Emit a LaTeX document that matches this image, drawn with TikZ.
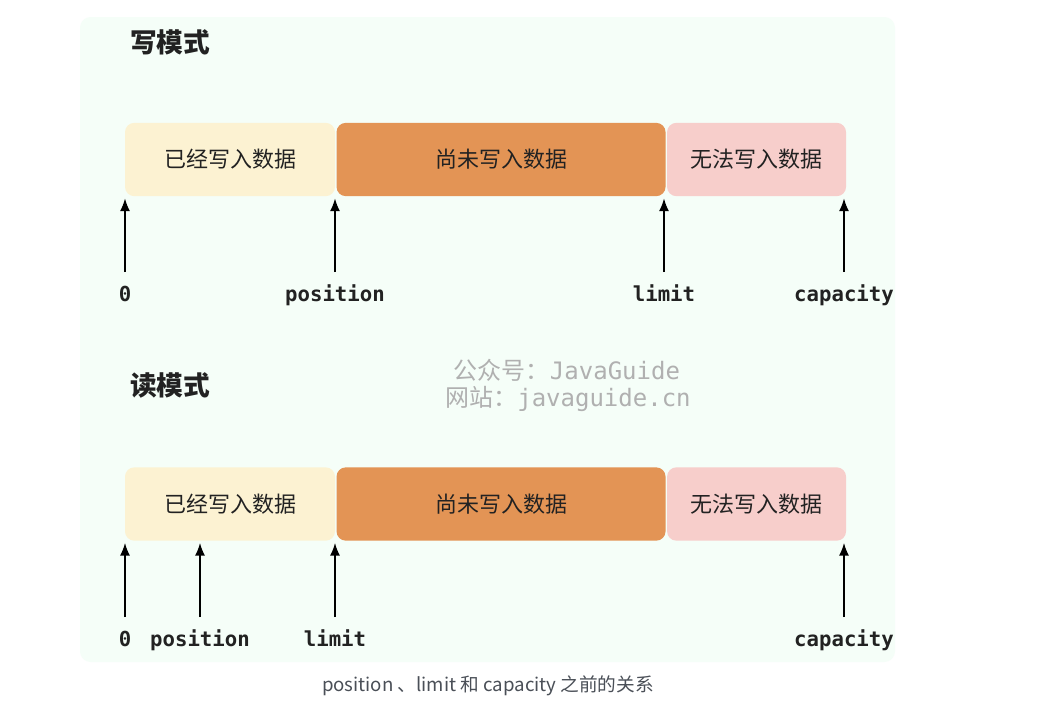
\documentclass[tikz,border=0pt]{standalone}
\usepackage{fontspec}
\setmainfont{Noto Sans CJK SC}
\setmonofont{DejaVu Sans Mono}
\newfontfamily\cjk{Noto Sans CJK SC}
\usepackage{xcolor}
\usetikzlibrary{positioning,arrows.meta}
\definecolor{panelbg}{HTML}{F5FEF8}
\definecolor{donefill}{HTML}{FCF2D2}
\definecolor{freefill}{HTML}{E39455}
\definecolor{lockfill}{HTML}{F7CECB}
\definecolor{textdark}{HTML}{222222}
\definecolor{wmgray}{HTML}{B0B0B0}
\definecolor{capgray}{HTML}{4A4F57}

\begin{document}
\begin{tikzpicture}[
  x=0.75pt, y=-0.75pt,
  every node/.style={inner sep=0pt},
  node distance=0.75pt,
  cell/.style={rounded corners=7pt, minimum height=55pt, text=textdark,
    font=\cjk\fontsize{16.5}{18}\selectfont},
  mode/.style={anchor=west, text=textdark, font=\cjk\bfseries\fontsize{20}{22}\selectfont},
  ptrlabel/.style={anchor=base, text height=11pt, text depth=3pt, text=textdark,
    font=\ttfamily\bfseries\fontsize{15.5}{16}\selectfont},
  ptr/.style={-{Latex[length=9.5pt,width=7.5pt]}, line width=1.1pt,
    shorten <=10.5pt, shorten >=1.5pt},
  watermark/.style={text=wmgray, font=\fontsize{18}{20}\selectfont}
  ]

\useasboundingbox (0,0) rectangle (1060,722);
\fill[white] (0,0) rectangle (1060,722);
\fill[panelbg, rounded corners=8pt] (80,17) rectangle (895,662);

\node[mode] (wtitle) at (130,42) {写模式};
\node[cell, fill=donefill, minimum width=157.5pt] (w1) at (230,159.5) {已经写入数据};
\node[cell, fill=freefill, minimum width=246.75pt, right=of w1] (w2) {尚未写入数据};
\node[cell, fill=lockfill, minimum width=134.25pt, right=of w2] (w3) {无法写入数据};

\node[ptrlabel] (wzero) at (125,301) {0};
\node[ptrlabel] (wpos) at (335,301) {position};
\node[ptrlabel] (wlim) at (664,301) {limit};
\node[ptrlabel] (wcap) at (844,301) {capacity};
\draw[ptr] (wzero.north) -- (wzero.north |- w1.south);
\draw[ptr] (wpos.north) -- (wpos.north |- w1.south);
\draw[ptr] (wlim.north) -- (wlim.north |- w2.south);
\draw[ptr] (wcap.north) -- (wcap.north |- w3.south);

\node[watermark] (wm1) at (567,370) {公众号：{\ttfamily JavaGuide}};
\node[watermark] (wm2) at (568,399) {网站：{\ttfamily javaguide.cn}};

\node[mode] (rtitle) at (130,385) {读模式};
\node[cell, fill=donefill, minimum width=157.5pt] (r1) at (230,504) {已经写入数据};
\node[cell, fill=freefill, minimum width=246.75pt, right=of r1] (r2) {尚未写入数据};
\node[cell, fill=lockfill, minimum width=134.25pt, right=of r2] (r3) {无法写入数据};

\node[ptrlabel] (rzero) at (125,646) {0};
\node[ptrlabel] (rpos) at (200,646) {position};
\node[ptrlabel] (rlim) at (335,646) {limit};
\node[ptrlabel] (rcap) at (844,646) {capacity};
\draw[ptr] (rzero.north) -- (rzero.north |- r1.south);
\draw[ptr] (rpos.north) -- (rpos.north |- r1.south);
\draw[ptr] (rlim.north) -- (rlim.north |- r1.south);
\draw[ptr] (rcap.north) -- (rcap.north |- r3.south);

\node[text=capgray, font=\cjk\fontsize{14}{16}\selectfont] (caption) at (488,686)
  {position 、limit 和 capacity 之前的关系};

\end{tikzpicture}
\end{document}
